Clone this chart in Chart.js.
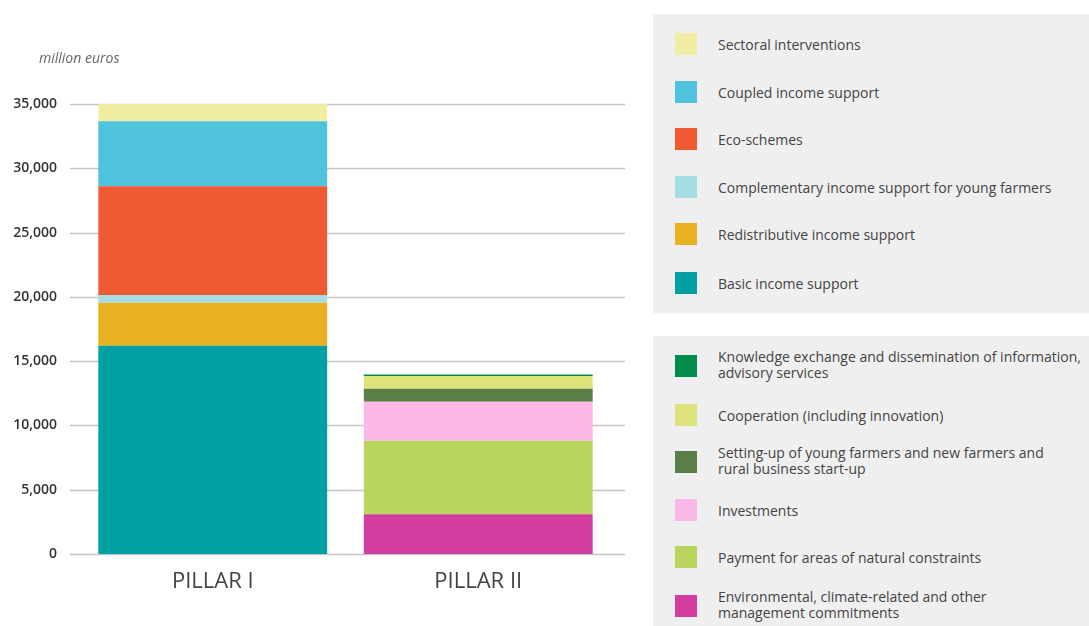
<!DOCTYPE html>
<html>
<head>
<meta charset="utf-8">
<script src="https://cdn.jsdelivr.net/npm/chart.js@4"></script>
<style>
  html,body{margin:0;padding:0;background:#fff;width:1089px;height:626px;overflow:hidden;font-family:"Open Sans",sans-serif;}
  #wrap{position:absolute;left:0;top:0;width:650px;height:626px;}
  #unit{position:absolute;left:39px;top:48px;font-style:italic;font-size:14px;color:#666;}
  .box{position:absolute;left:653px;width:436px;background:#efefef;}
  .item{position:absolute;left:22px;height:22px;}
  .sw{position:absolute;left:0;top:0;width:22px;height:22px;}
  .lbl{position:absolute;left:43px;font-size:14px;line-height:16px;color:#444;white-space:nowrap;}
</style>
</head>
<body>
<div id="wrap"><canvas id="c" width="650" height="626"></canvas></div>
<div id="unit">million euros</div>
<div class="box" id="box1" style="top:14px;height:299px;"></div>
<div class="box" id="box2" style="top:336px;height:290px;"></div>
<script>
const categories = ["PILLAR I", "PILLAR II"];
const yTicks = [0, 5000, 10000, 15000, 20000, 25000, 30000, 35000];

// Pillar I series (bottom to top)
const pillar1Names = ["Basic income support","Redistributive income support","Complementary income support for young farmers","Eco-schemes","Coupled income support","Sectoral interventions"];
const pillar1Values = [16200, 3350, 600, 8450, 5050, 1350];
const pillar1Colors = ["#00a0a4","#e9b021","#a6dde3","#f05a32","#4fc3dc","#f1eea4"];

// Pillar II series (bottom to top)
const pillar2Names = ["Environmental, climate-related and other\nmanagement commitments","Payment for areas of natural constraints","Investments","Setting-up of young farmers and new farmers and\nrural business start-up","Cooperation (including innovation)","Knowledge exchange and dissemination of information,\nadvisory services"];
const pillar2Values = [3100, 5700, 3050, 1000, 1000, 110];
const pillar2Colors = ["#d23ea0","#b9d55e","#fbb8e6","#5a7e47","#dde37a","#008c4a"];

const datasets = [];
pillar1Names.forEach((n,i)=>datasets.push({label:n,data:[pillar1Values[i],null],backgroundColor:pillar1Colors[i],borderWidth:0}));
pillar2Names.forEach((n,i)=>datasets.push({label:n,data:[null,pillar2Values[i]],backgroundColor:pillar2Colors[i],borderWidth:0}));

const gridPlugin = {
  id:'grid',
  beforeDatasetsDraw(chart){
    const ctx = chart.ctx, y = chart.scales.y;
    ctx.save();
    ctx.strokeStyle = '#c4c4c4';
    ctx.lineWidth = 1.3;
    yTicks.forEach(t=>{
      const py = Math.round(y.getPixelForValue(t))+0.5;
      ctx.beginPath(); ctx.moveTo(70,py); ctx.lineTo(625,py); ctx.stroke();
    });
    ctx.restore();
  }
};

new Chart(document.getElementById('c'), {
  type:'bar',
  data:{labels:categories, datasets},
  plugins:[gridPlugin],
  options:{
    responsive:false,
    animation:false,
    layout:{padding:{top:104,right:39,left:0,bottom:0}},
    plugins:{legend:{display:false},tooltip:{enabled:false}},
    datasets:{bar:{categoryPercentage:1,barPercentage:0.862}},
    scales:{
      x:{stacked:true,
         grid:{display:false,drawTicks:false},
         border:{display:false},
         ticks:{padding:15,color:'#444',font:{family:'Open Sans',size:22}},
         afterFit(s){s.height=72;}
      },
      y:{stacked:true,min:0,max:35000,
         grid:{display:false,drawTicks:false},
         border:{display:false},
         afterBuildTicks(s){s.ticks = yTicks.map(v=>({value:v}));},
         ticks:{padding:23,color:'#333',font:{family:'Open Sans',size:14,weight:'600'},
                callback:v=>v.toLocaleString('en-US')},
         afterFit(s){s.width=80;}
      }
    }
  }
});

// HTML legend built from the series arrays (top to bottom as in reference)
function buildLegend(boxId, names, colors, tops){
  const box = document.getElementById(boxId);
  const order = names.map((_,i)=>i).reverse();
  order.forEach((idx,k)=>{
    const it = document.createElement('div');
    it.className='item';
    it.style.top = tops[k]+'px';
    const sw = document.createElement('div'); sw.className='sw'; sw.style.background=colors[idx];
    const lb = document.createElement('div'); lb.className='lbl';
    const lines = names[idx].split('\n');
    lb.innerHTML = lines.join('<br>');
    lb.style.top = (lines.length>1 ? -6 : 4)+'px';
    it.appendChild(sw); it.appendChild(lb); box.appendChild(it);
  });
}
buildLegend('box1', pillar1Names, pillar1Colors, [19,67,114,162,209,258]);
buildLegend('box2', pillar2Names, pillar2Colors, [19,68,115,163,210,259]);
</script>
</body>
</html>
